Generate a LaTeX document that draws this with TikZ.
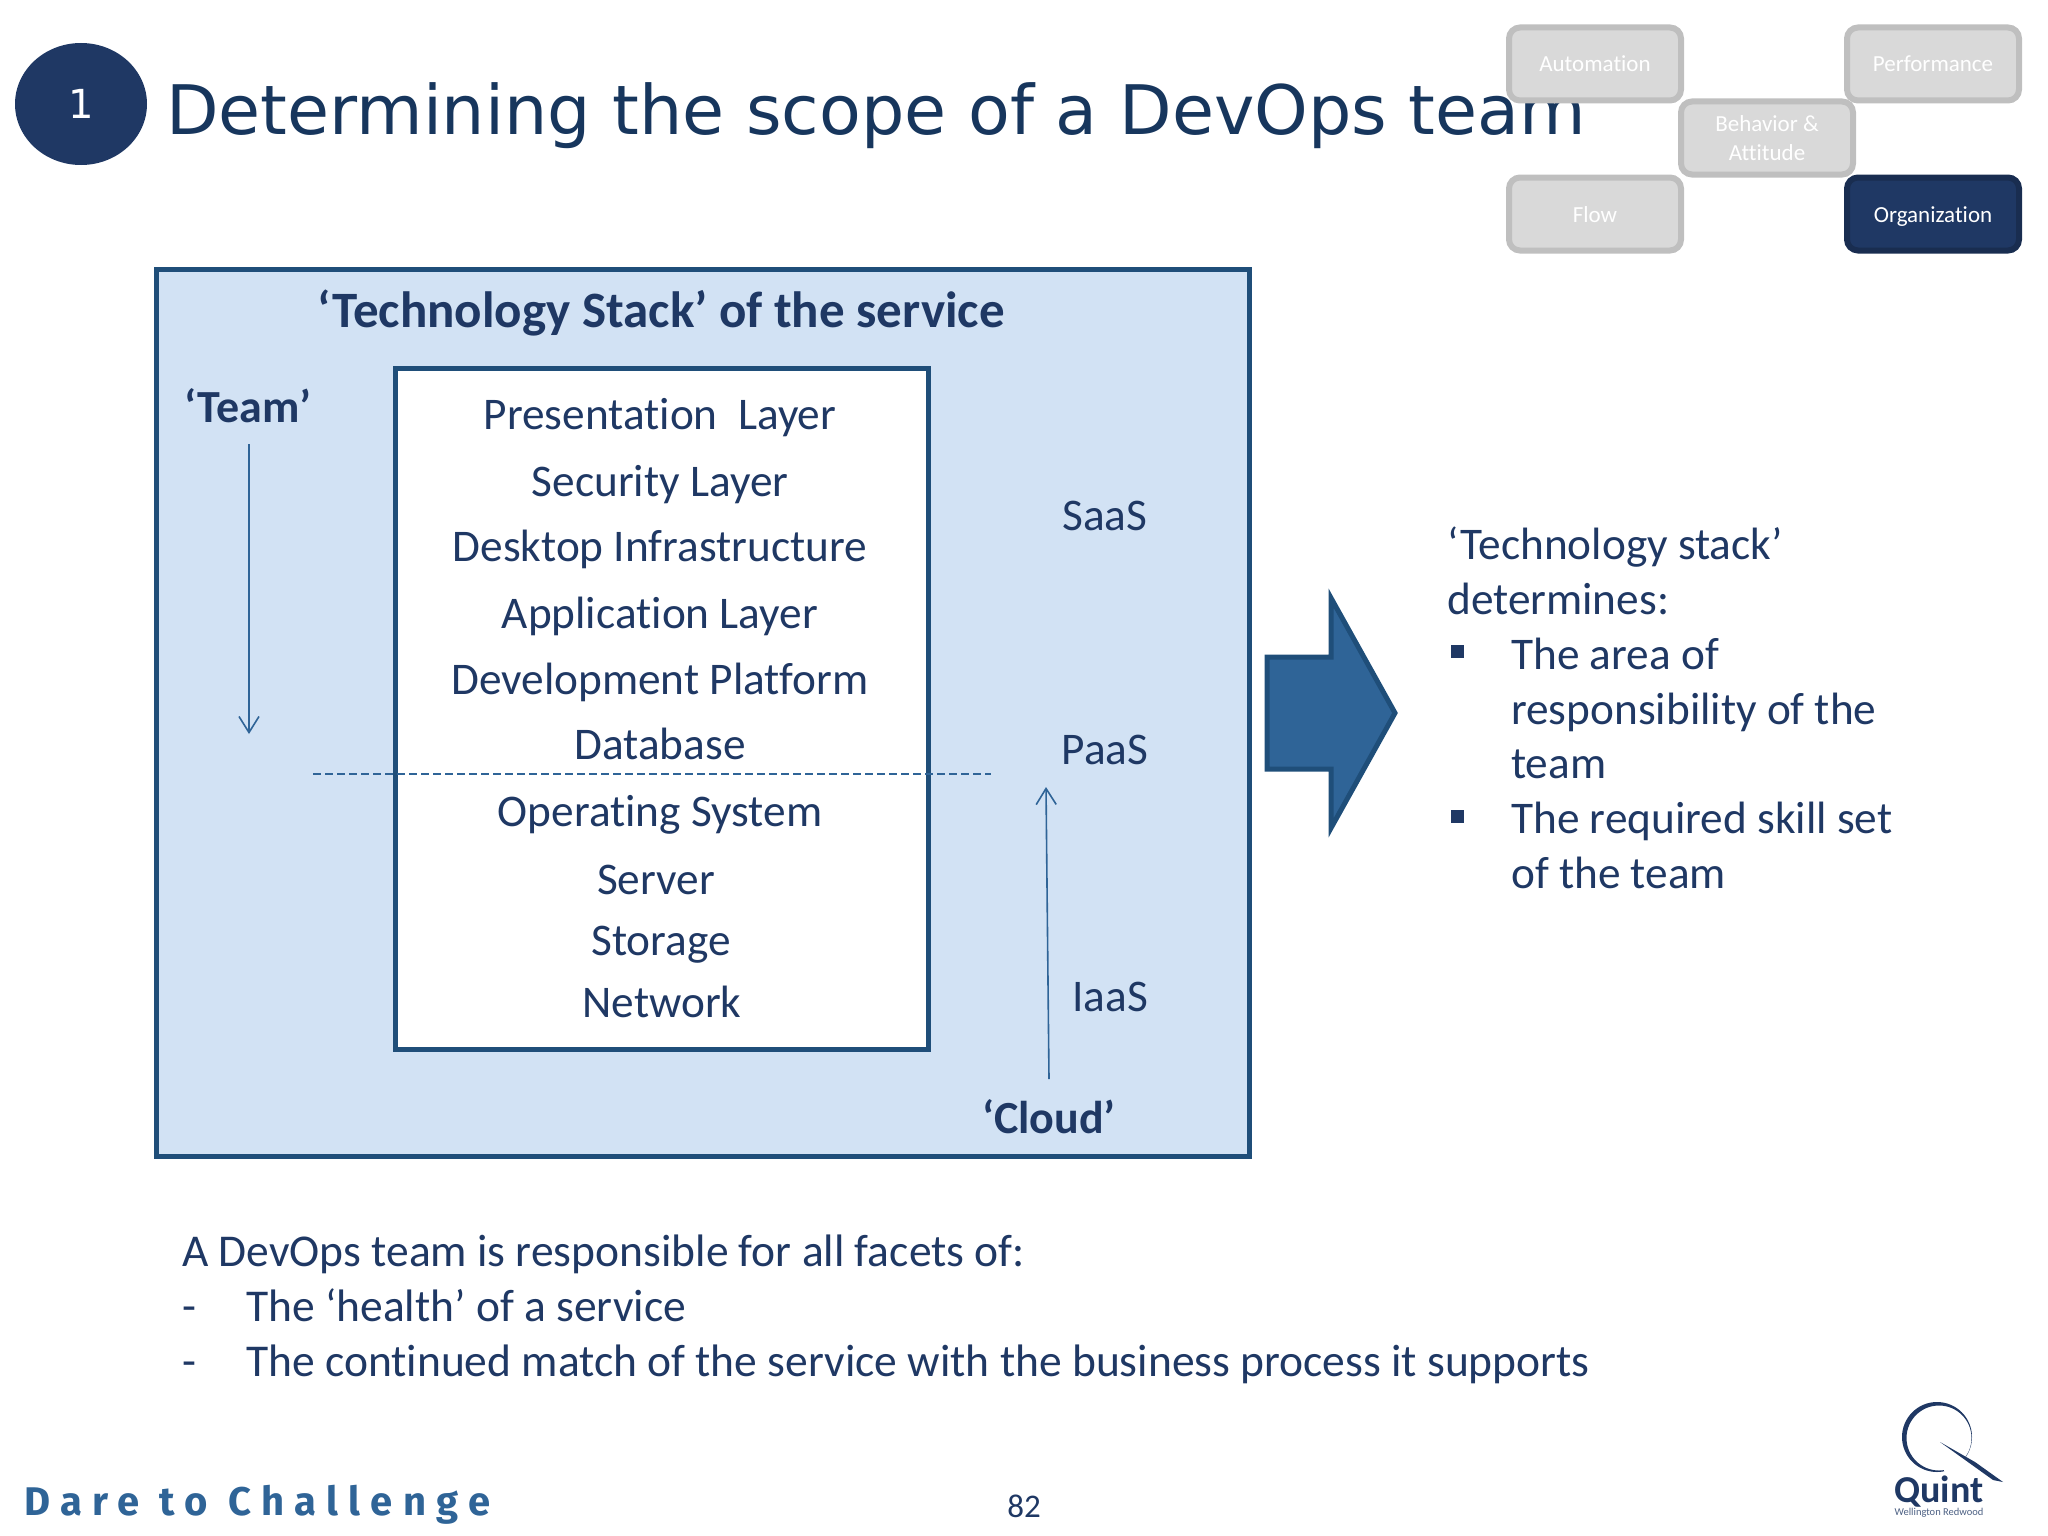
\documentclass[tikz,border=0pt]{standalone}
\usepackage{fontspec}
\setmainfont{Carlito}[Ligatures=NoCommon]
\newfontfamily\headfont{DejaVu Sans}
\newfontfamily\slogan[LetterSpace=26]{Fira Sans}
\usepackage{tikz}
\usetikzlibrary{arrows.meta}
\definecolor{navy}{HTML}{1F3864}
\definecolor{titleblue}{HTML}{17365D}
\definecolor{edgeblue}{HTML}{1F4E79}
\definecolor{paleblue}{HTML}{D2E2F4}
\definecolor{midblue}{HTML}{2F6497}
\definecolor{tilegrey}{HTML}{D9D9D9}
\definecolor{tileedge}{HTML}{BFBFBF}
\tikzset{
  stackitem/.style={text=navy, font=\fontsize{45.3}{54}\selectfont, anchor=base, inner sep=0pt},
  boldlabel/.style={text=navy, font=\fontsize{46}{54}\selectfont\bfseries, anchor=base, inner sep=0pt},
  bodyline/.style={text=navy, font=\fontsize{45.3}{54}\selectfont, anchor=base west, inner sep=0pt},
  longline/.style={bodyline, font=\fontsize{45.5}{54}\selectfont},
  tilebox/.style={draw=tileedge, fill=tilegrey, line width=6pt, rounded corners=11pt, text=white,
    align=center, font=\fontsize{23}{29}\selectfont, minimum width=172pt, minimum height=73pt, inner sep=0pt},
  tile/.style={tilebox, text height=21pt, text depth=5pt},
  thinarrow/.style={draw=midblue, line width=1.6pt, ->, >={Straight Barb[length=16pt,width=20pt]}},
  squarebullet/.style={fill=navy, minimum size=13pt, inner sep=0pt}
}
\begin{document}
\begin{tikzpicture}[x=1pt,y=-1pt]
\useasboundingbox (0,0) rectangle (2048,1536);

\fill[navy] (81,104) ellipse (66 and 61);
\node[text=white, font=\headfont\fontsize{40}{48}\selectfont] (num) at (81,104) {1};
\node[text=titleblue, font=\headfont\fontsize{68.3}{80}\selectfont, anchor=base west, inner sep=0pt] (title) at (166,135) {Determining the scope of a DevOps team};

\node[tile] (auto) at (1595,64) {Automation};
\node[tile] (perf) at (1933,64) {Performance};
\node[tilebox] (behav) at (1767,138) {Behavior \&\\Attitude};
\node[tile] (flow) at (1595,214) {Flow};
\node[tile, draw=navy!80!black, fill=navy] (org) at (1933,214) {Organization};

\draw[edgeblue, fill=paleblue, line width=5pt] (156,269) rectangle (1249,1156);
\draw[edgeblue, fill=white, line width=5pt] (395,368) rectangle (928,1049);

\node[boldlabel, font=\fontsize{51}{60}\selectfont\bfseries] (stacktitle) at (661,327) {‘Technology Stack’ of the service};
\node[boldlabel] (teamlabel) at (248,422) {‘Team’};
\node[boldlabel] (cloudlabel) at (1049,1133) {‘Cloud’};

\node[stackitem] (presentation) at (660,429) {Presentation\ \ Layer};
\node[stackitem] (security) at (660,496) {Security Layer};
\node[stackitem] (desktop) at (660,561) {Desktop Infrastructure};
\node[stackitem] (application) at (660,628) {Application Layer};
\node[stackitem] (development) at (660,694) {Development Platform};
\node[stackitem] (database) at (660,759) {Database};
\node[stackitem] (system) at (660,826) {Operating System};
\node[stackitem] (server) at (656,894) {Server};
\node[stackitem] (storage) at (661,955) {Storage};
\node[stackitem] (network) at (662,1017) {Network};

\node[stackitem] (saas) at (1105,530) {SaaS};
\node[stackitem] (paas) at (1105,764) {PaaS};
\node[stackitem] (iaas) at (1110,1011) {IaaS};

\coordinate (dashl) at (313,774);
\coordinate (dashr) at (991,774);
\draw[midblue, line width=1.6pt, dash pattern=on 8pt off 4pt] (dashl)--(dashr);

\coordinate (teamtop) at (249,444);
\coordinate (teamend) at (249,734);
\draw[thinarrow] (teamtop)--(teamend);
\coordinate (cloudlow) at (1049,1079);
\coordinate (cloudend) at (1046,787);
\draw[thinarrow] (cloudlow)--(cloudend);

\draw[edgeblue, fill=midblue, line width=5pt, miter limit=10] (1267,657)--(1331,657)--(1331,598)--(1395,713)--(1331,828)--(1331,769)--(1267,769)--cycle;

\node[bodyline] (det1) at (1447,559) {‘Technology stack’};
\node[bodyline] (det2) at (1447,614) {determines:};
\node[squarebullet] (bul1) at (1457,651) {};
\node[bodyline] (area1) at (1511,669) {The area of};
\node[bodyline] (area2) at (1511,724) {responsibility of the};
\node[bodyline] (area3) at (1511,778) {team};
\node[squarebullet] (bul2) at (1457,816) {};
\node[bodyline] (skill1) at (1511,833) {The required skill set};
\node[bodyline] (skill2) at (1511,888) {of the team};

\node[longline] (facets) at (182,1266) {A DevOps team is responsible for all facets of:};
\node[longline] (dash1) at (182,1321) {-};
\node[longline] (health) at (246,1321) {The ‘health’ of a service};
\node[longline] (dash2) at (182,1376) {-};
\node[longline] (match) at (246,1376) {The continued match of the service with the business process it supports};

\node[text=midblue, font=\slogan\bfseries\fontsize{40}{48}\selectfont, anchor=base west, inner sep=0pt] (dare) at (24,1515) {Dare to Challenge};
\node[text=navy, font=\fontsize{33}{40}\selectfont, inner sep=0pt] (page) at (1024,1506) {82};

\fill[navy, even odd rule] (1937,1437) circle (35) (1939,1438) circle (32.5);
\fill[white] (1937,1437)--(1972.5,1464.7)--(1946.4,1481)--cycle;
\fill[navy] (1940,1442)--(1975,1462)--(2003,1482)--(1993,1480)--cycle;
\node[text=navy, font=\fontsize{38}{44}\selectfont\bfseries, anchor=base, inner sep=0pt] (quint) at (1939,1502) {Quint};
\node[text=navy!80, font=\fontsize{10.5}{12}\selectfont, inner sep=0pt] (wellington) at (1939,1513) {Wellington Redwood};
\end{tikzpicture}
\end{document}
